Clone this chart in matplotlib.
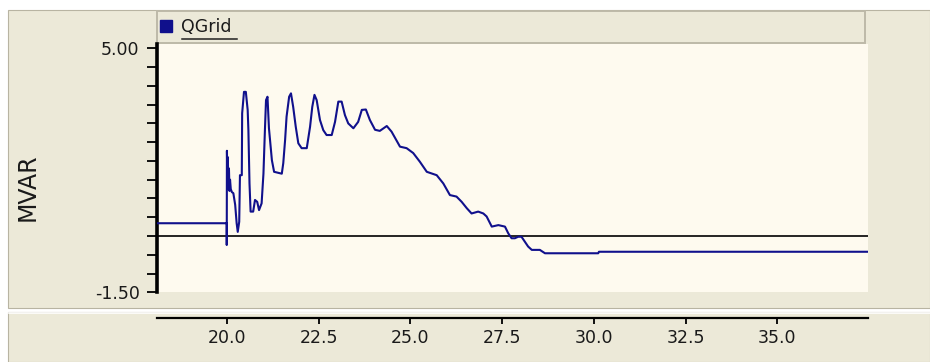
import numpy as np
import matplotlib
matplotlib.use("Agg")
import matplotlib.pyplot as plt
from matplotlib.patches import Rectangle
from matplotlib.lines import Line2D

plt.rcParams['font.family'] = ['DejaVu Sans']
plt.rcParams['axes.unicode_minus'] = False

# ---------------- data ----------------
series_name = "QGrid"
y_label = "MVAR"

time_s = [18.1, 20.0, 20.0, 20.005, 20.02, 20.03, 20.045, 20.06, 20.075, 20.09,
          20.11, 20.14, 20.18, 20.23, 20.27, 20.30, 20.34, 20.36, 20.41, 20.42,
          20.47, 20.52, 20.57, 20.59, 20.62, 20.65, 20.72, 20.77, 20.83, 20.88,
          20.95, 21.00, 21.04, 21.07, 21.11, 21.15, 21.23, 21.29, 21.50, 21.54,
          21.59, 21.63, 21.70, 21.75, 21.81, 21.88, 21.95, 22.04, 22.18, 22.27,
          22.33, 22.39, 22.45, 22.54, 22.63, 22.72, 22.86, 22.95, 23.04, 23.13,
          23.22, 23.31, 23.45, 23.58, 23.68, 23.79, 23.90, 24.04, 24.17, 24.36,
          24.49, 24.72, 24.90, 25.08, 25.26, 25.45, 25.72, 25.90, 26.08, 26.26,
          26.40, 26.54, 26.67, 26.85, 26.99, 27.08, 27.22, 27.40, 27.58, 27.67,
          27.76, 27.85, 27.94, 28.03, 28.12, 28.21, 28.31, 28.53, 28.67, 30.12,
          30.14, 37.47]
qgrid_mvar = [0.34, 0.34, -0.24, 2.27, 1.30, 2.10, 1.25, 1.80, 1.20, 1.50,
              1.25, 1.17, 1.14, 0.83, 0.34, 0.11, 0.38, 1.62, 1.62, 3.27,
              3.84, 3.84, 3.36, 2.82, 1.40, 0.65, 0.65, 0.96, 0.91, 0.69,
              0.87, 1.66, 2.82, 3.62, 3.71, 2.87, 2.02, 1.71, 1.66, 1.94,
              2.56, 3.18, 3.71, 3.80, 3.44, 2.91, 2.47, 2.34, 2.34, 2.91,
              3.44, 3.76, 3.62, 3.09, 2.82, 2.69, 2.69, 3.04, 3.58, 3.58,
              3.22, 3.00, 2.87, 3.04, 3.36, 3.37, 3.09, 2.83, 2.80, 2.93,
              2.78, 2.38, 2.34, 2.21, 1.98, 1.71, 1.62, 1.40, 1.09, 1.05,
              0.91, 0.74, 0.60, 0.65, 0.60, 0.52, 0.25, 0.29, 0.25, 0.07,
              -0.06, -0.06, -0.02, -0.02, -0.15, -0.28, -0.37, -0.37, -0.46, -0.46,
              -0.42, -0.42]

x_ticks = [20.0, 22.5, 25.0, 27.5, 30.0, 32.5, 35.0]
x_tick_labels = ["20.0", "22.5", "25.0", "27.5", "30.0", "32.5", "35.0"]
y_ticks = [-1.5, -1.0, -0.5, 0.0, 0.5, 1.0, 1.5, 2.0, 2.5, 3.0, 3.5, 4.0, 4.5, 5.0]
y_tick_labels = ["-1.50"] + [""] * 12 + ["5.00"]

# ---------------- layout helpers ----------------
W, H = 930, 362
def fx(px):
    return px / W
def fy(py):
    return 1 - py / H

BEIGE = '#ECE9D8'
CREAM = '#FEFAEF'
NAVY = '#10108C'

fig = plt.figure(figsize=(W / 100, H / 100), dpi=100, facecolor='white')

# background panels
fig.add_artist(Rectangle((fx(8), fy(308)), fx(930) - fx(8), (308 - 10) / H,
                         transform=fig.transFigure, facecolor=BEIGE,
                         edgecolor='#B8B4A2', lw=0.8, zorder=-5))
fig.add_artist(Rectangle((fx(8), fy(362)), fx(930) - fx(8), (362 - 312) / H,
                         transform=fig.transFigure, facecolor=BEIGE,
                         edgecolor='#B8B4A2', lw=0.8, zorder=-5))
fig.add_artist(Line2D([fx(9), fx(930)], [fy(313), fy(313)], color='white', lw=1.2, zorder=-4))

# main plot axes
ax = fig.add_axes([fx(157), fy(292.3), fx(868) - fx(157), (292.3 - 44) / H])
ax.set_facecolor(CREAM)
ax.plot(time_s, qgrid_mvar, color=NAVY, lw=1.5, zorder=3)
ax.axhline(0, color='black', lw=1.2, zorder=2)
ax.set_xlim(18.1, 37.47)
ax.set_ylim(-1.5, 5.115)
for s in ['top', 'right', 'bottom']:
    ax.spines[s].set_visible(False)
ax.spines['left'].set_linewidth(2.6)
ax.spines['left'].set_color('black')
ax.set_xticks([])
ax.set_yticks(y_ticks)
ax.set_yticklabels(y_tick_labels)
ax.tick_params(axis='y', direction='out', length=7, width=1.3, pad=5.5,
               labelsize=12.5, colors='black', labelcolor='#1A1A1A')
ax.set_ylabel(y_label, fontsize=17, color='#1A1A1A')
ax.yaxis.label.set_verticalalignment('center')
ax.yaxis.set_label_coords((27.5 - 157) / 711, (292.3 - 187.5) / 248.3)

# separate x axis strip (lower panel)
ax2 = fig.add_axes([fx(157), fy(318), fx(868) - fx(157), 0.0001])
ax2.patch.set_visible(False)
ax2.set_xlim(18.1, 37.47)
ax2.set_ylim(0, 1)
for s in ['top', 'right', 'left']:
    ax2.spines[s].set_visible(False)
ax2.spines['bottom'].set_linewidth(1.6)
ax2.set_yticks([])
ax2.set_xticks(x_ticks)
ax2.set_xticklabels(x_tick_labels)
ax2.tick_params(axis='x', direction='out', length=4, width=1.3, pad=4,
                labelsize=12.5, labelcolor='#1A1A1A')

# legend box
fig.add_artist(Rectangle((fx(157), fy(43)), fx(865) - fx(157), (43 - 11) / H,
                         transform=fig.transFigure, facecolor=BEIGE,
                         edgecolor='#BDB9A8', lw=1.4, zorder=-1))
proxy = Line2D([], [], marker='s', linestyle='none', color=NAVY,
               markersize=8.5)
fig.legend(handles=[proxy], labels=[series_name], loc='center left',
           bbox_to_anchor=(fx(160), fy(27.5)), frameon=False, fontsize=12.5,
           handlelength=0.7, handletextpad=0.5, borderpad=0, borderaxespad=0,
           labelcolor='#1A1A1A')
fig.add_artist(Line2D([fx(182), fx(237)], [fy(38.5), fy(38.5)], color='#202020',
                      lw=1.1, zorder=6))

fig.savefig('out.png', dpi=100, facecolor='white')
